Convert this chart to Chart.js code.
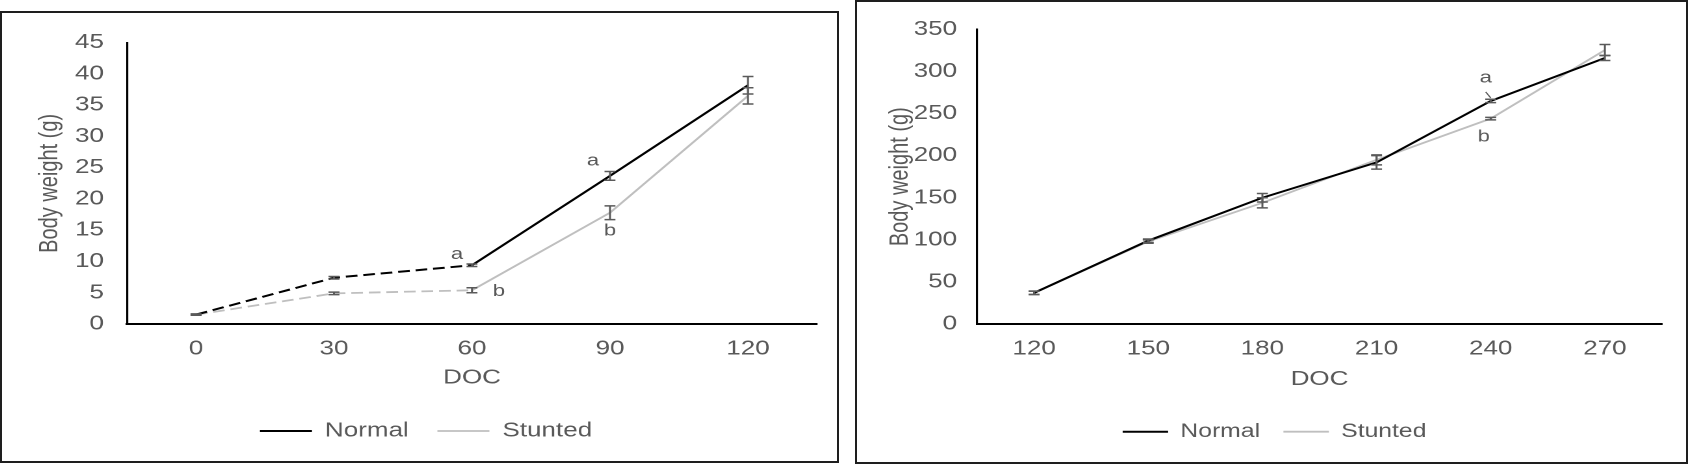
<!DOCTYPE html>
<html>
<head>
<meta charset="utf-8">
<script src="https://cdn.jsdelivr.net/npm/chart.js@4/dist/chart.umd.min.js"></script>
<style>
  html, body { margin: 0; padding: 0; background: #fff; }
  body { width: 1689px; height: 464px; position: relative; overflow: hidden; }
  .panel { position: absolute; border: 2px solid #1e1e1e; background: #fff; }
  #earlyPanel { left: 0; top: 11px; width: 835px; height: 448px; }
  #latePanel { left: 855px; top: 0; width: 829px; height: 460px; }
</style>
</head>
<body>
<div class="panel" id="earlyPanel">
  <canvas id="early" width="642" height="448" style="width:835px;height:448px"></canvas>
</div>
<div class="panel" id="latePanel">
  <canvas id="late" width="638" height="460" style="width:829px;height:460px"></canvas>
</div>
<script>
// nursery phase, DOC 0-120
const earlyDoc = ["0", "30", "60", "90", "120"];
const earlyNormal = [1.5, 7.4, 9.4, 23.7, 38.2];
const earlyNormalSe = [0.1, 0.2, 0.2, 0.7, 1.4];
const earlyStunted = [1.5, 4.9, 5.4, 17.8, 36.5];
const earlyStuntedSe = [0.1, 0.2, 0.4, 1.1, 1.3];
const earlyNormalSig = ["", "", "a", "a", ""];
const earlyStuntedSig = ["", "", "b", "b", ""];
const earlyYMax = 45;
const earlyYStep = 5;

// grow-out phase, DOC 120-270
const lateDoc = ["120", "150", "180", "210", "240", "270"];
const lateNormal = [37, 99, 150, 192, 265, 316];
const lateNormalSe = [2, 2, 5, 8, 2, 3];
const lateStunted = [37, 98, 144, 195, 244, 325.5];
const lateStuntedSe = [2, 2, 6, 6, 1.5, 6.5];
const lateNormalSig = ["", "", "", "", "a", ""];
const lateStuntedSig = ["", "", "", "", "b", ""];
const lateYMax = 350;
const lateYStep = 50;

const textColor = "#595959";
Chart.defaults.font.family = "'Liberation Sans', Arial, sans-serif";

const errorBars = {
  id: "errorBars",
  afterDatasetsDraw(chart, args, opts) {
    const ctx = chart.ctx;
    const y = chart.scales.y;
    ctx.save();
    ctx.strokeStyle = opts.color;
    ctx.lineWidth = opts.width;
    chart.data.datasets.forEach((ds, i) => {
      if (!ds.se) return;
      chart.getDatasetMeta(i).data.forEach((pt, j) => {
        const top = y.getPixelForValue(ds.data[j] + ds.se[j]);
        const bot = y.getPixelForValue(ds.data[j] - ds.se[j]);
        ctx.beginPath();
        ctx.moveTo(pt.x, top);
        ctx.lineTo(pt.x, bot);
        ctx.moveTo(pt.x - opts.cap, top);
        ctx.lineTo(pt.x + opts.cap, top);
        ctx.moveTo(pt.x - opts.cap, bot);
        ctx.lineTo(pt.x + opts.cap, bot);
        ctx.stroke();
      });
    });
    ctx.restore();
  }
};

const sigLetters = {
  id: "sigLetters",
  afterDatasetsDraw(chart, args, opts) {
    const ctx = chart.ctx;
    ctx.save();
    ctx.fillStyle = opts.color;
    ctx.strokeStyle = opts.color;
    ctx.lineWidth = 1;
    ctx.font = opts.font;
    ctx.textAlign = "center";
    ctx.textBaseline = "middle";
    chart.data.datasets.forEach((ds, i) => {
      if (!ds.sig) return;
      const meta = chart.getDatasetMeta(i);
      ds.sig.forEach((letter, j) => {
        if (!letter) return;
        const pt = meta.data[j];
        const off = opts.offsets[i + ":" + j] || [0, 0];
        ctx.fillText(letter, pt.x + off[0] / opts.stretch, pt.y + off[1]);
        const arrow = opts.arrows[i + ":" + j];
        if (arrow) {
          ctx.beginPath();
          ctx.moveTo(pt.x + arrow[0] / opts.stretch, pt.y + arrow[1]);
          ctx.lineTo(pt.x + arrow[2] / opts.stretch, pt.y + arrow[3]);
          ctx.stroke();
        }
      });
    });
    ctx.restore();
  }
};

function makeChart(id, cfg) {
  const canvas = document.getElementById(id);
  const stretch = parseFloat(canvas.style.width) / canvas.width;
  const dashed = c => (c.p1DataIndex <= cfg.dashedUpTo ? [9, 4.5] : undefined);
  return new Chart(canvas, {
    type: "line",
    data: {
      labels: cfg.labels,
      datasets: [
        {
          label: "Normal",
          data: cfg.normal,
          se: cfg.normalSe,
          sig: cfg.normalSig,
          borderColor: "#000000",
          backgroundColor: "#000000",
          borderWidth: 2,
          pointRadius: 0,
          tension: 0,
          segment: { borderDash: dashed }
        },
        {
          label: "Stunted",
          data: cfg.stunted,
          se: cfg.stuntedSe,
          sig: cfg.stuntedSig,
          borderColor: "#bfbfbf",
          backgroundColor: "#bfbfbf",
          borderWidth: 1.8,
          pointRadius: 0,
          tension: 0,
          segment: { borderDash: dashed }
        }
      ]
    },
    options: {
      responsive: false,
      animation: false,
      devicePixelRatio: 2,
      events: [],
      layout: { padding: { left: cfg.padLeft, right: cfg.padRight, top: 22, bottom: cfg.padBottom } },
      plugins: {
        legend: {
          position: "bottom",
          labels: {
            usePointStyle: true,
            pointStyle: "line",
            pointStyleWidth: cfg.legendLine,
            padding: cfg.legendGap,
            color: textColor,
            font: { size: cfg.legendFont }
          }
        },
        tooltip: { enabled: false },
        errorBars: { color: "#5a5a5a", width: 1.5, cap: 4.2 },
        sigLetters: {
          color: textColor,
          font: "17px 'Liberation Sans', Arial, sans-serif",
          stretch: stretch,
          offsets: cfg.sigOffsets,
          arrows: cfg.sigArrows || {}
        }
      },
      scales: {
        x: {
          offset: true,
          grid: { display: false, drawTicks: false, offset: true },
          border: { display: true, color: "#000000", width: 2 },
          ticks: { color: textColor, font: { size: 20 }, padding: 13 },
          title: {
            display: true,
            text: "DOC",
            color: textColor,
            font: { size: 20 },
            padding: { top: 0, bottom: cfg.xTitlePad }
          },
          afterFit: sc => { sc.height = cfg.xHeight; }
        },
        y: {
          min: 0,
          max: cfg.yMax,
          ticks: { stepSize: cfg.yStep, color: textColor, font: { size: 20 }, padding: cfg.yTickPad },
          grid: { display: false, drawTicks: false },
          border: { display: true, color: "#000000", width: 1.6 },
          title: {
            display: true,
            text: "Body weight (g)",
            color: textColor,
            font: { size: 20 },
            padding: { top: cfg.yTitlePad, bottom: 0 }
          },
          afterFit: sc => { sc.width = cfg.yWidth; }
        }
      }
    },
    plugins: [errorBars, sigLetters]
  });
}

makeChart("early", {
  labels: earlyDoc,
  normal: earlyNormal,
  normalSe: earlyNormalSe,
  normalSig: earlyNormalSig,
  stunted: earlyStunted,
  stuntedSe: earlyStuntedSe,
  stuntedSig: earlyStuntedSig,
  yMax: earlyYMax,
  yStep: earlyYStep,
  dashedUpTo: 2,
  padLeft: 25.4,
  padRight: 15.4,
  padBottom: 10,
  yWidth: 70.7,
  yTickPad: 17.7,
  yTitlePad: -0.5,
  xHeight: 75,
  xTitlePad: 9,
  legendLine: 40,
  legendGap: 22,
  legendFont: 20,
  sigOffsets: { "0:2": [-15, -11], "1:2": [27, 1], "0:3": [-17, -15], "1:3": [0, 18] }
});

makeChart("late", {
  labels: lateDoc,
  normal: lateNormal,
  normalSe: lateNormalSe,
  normalSig: lateNormalSig,
  stunted: lateStunted,
  stuntedSe: lateStuntedSe,
  stuntedSig: lateStuntedSig,
  yMax: lateYMax,
  yStep: lateYStep,
  dashedUpTo: -1,
  padLeft: 23.1,
  padRight: 18.5,
  padBottom: 10.8,
  yWidth: 69.25,
  yTickPad: 15.4,
  yTitlePad: -1.4,
  xHeight: 80.2,
  xTitlePad: 12.9,
  legendLine: 35,
  legendGap: 18,
  legendFont: 19,
  sigOffsets: { "0:4": [-5, -23], "1:4": [-7, 18] },
  sigArrows: { "0:4": [-5, -9, 0, -3] }
});
</script>
</body>
</html>
